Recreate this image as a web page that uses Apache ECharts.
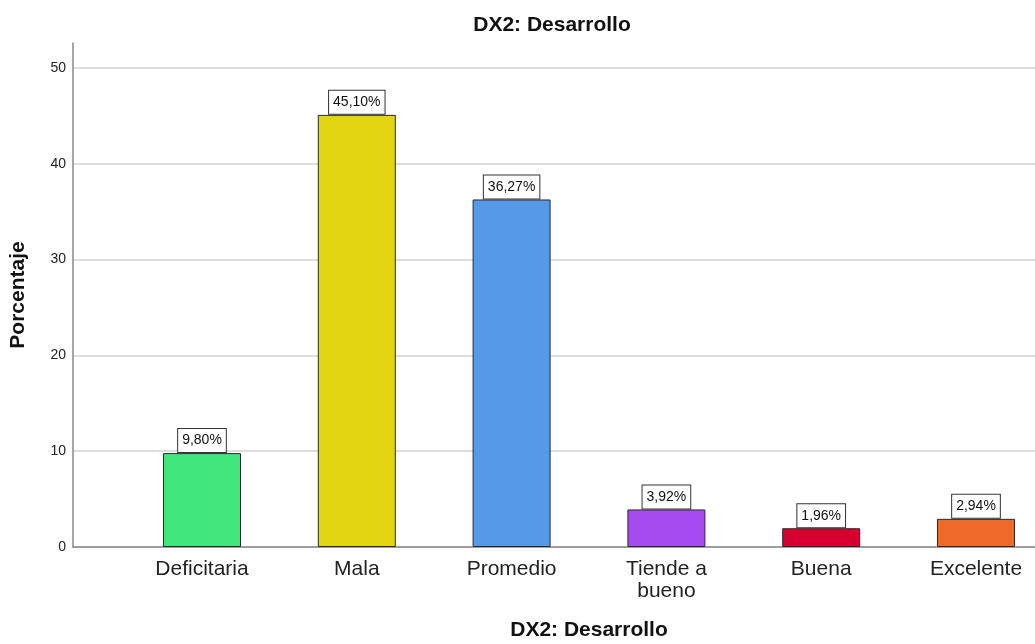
<!DOCTYPE html>
<html>
<head>
<meta charset="utf-8">
<script src="https://cdn.jsdelivr.net/npm/echarts@6/dist/echarts.min.js"></script>
<style>html,body{margin:0;padding:0;background:#fff}#c{width:1035px;height:644px}</style>
</head>
<body>
<div id="c"></div>
<script>
const categories = ['Deficitaria', 'Mala', 'Promedio', 'Tiende a\nbueno', 'Buena', 'Excelente'];
const percentages = [9.80, 45.10, 36.27, 3.92, 1.96, 2.94];
const barColors = ['#41E67C', '#E3D50F', '#5699E8', '#A64BF0', '#D6002F', '#F06A2C'];
const yTicks = [0, 10, 20, 30, 40, 50];
const chartTitle = 'DX2: Desarrollo';
const yTitle = 'Porcentaje';
const xTitle = 'DX2: Desarrollo';

const FONT = '"Liberation Sans", Arial, sans-serif';
const chart = echarts.init(document.getElementById('c'), null, {renderer: 'canvas'});
chart.setOption({
  backgroundColor: '#fff',
  animation: false,
  graphic: [{
    type: 'text', x: 552, y: 25,
    style: {text: chartTitle, textAlign: 'center', textVerticalAlign: 'middle',
      fontFamily: FONT, fontSize: 21, fontWeight: 'bold', fill: '#111'}
  }],
  grid: [
    {left: 73, right: 0, top: 43, bottom: 97, containLabel: false, outerBoundsMode: 'none'},
    {left: 202, right: 59, top: 43, bottom: 97, containLabel: false, outerBoundsMode: 'none'}
  ],
  xAxis: [
    {gridIndex: 0, type: 'value', min: 0, max: 1, show: true,
      axisLine: {show: true, onZero: false, lineStyle: {color: '#888', width: 1.5}},
      axisTick: {show: false}, axisLabel: {show: false}, splitLine: {show: false}},
    {gridIndex: 1, type: 'category', data: categories, boundaryGap: false,
      axisLine: {show: false}, axisTick: {show: false},
      axisLabel: {margin: 11, fontFamily: FONT, fontSize: 21, color: '#222', lineHeight: 22, interval: 0},
      name: xTitle, nameLocation: 'middle', nameGap: 73,
      nameTextStyle: {fontFamily: FONT, fontSize: 21, fontWeight: 'bold', color: '#111'}}
  ],
  yAxis: [
    {gridIndex: 0, type: 'value', min: 0, max: 52.6, interval: 10,
      axisLine: {show: true, lineStyle: {color: '#888', width: 1.5}},
      axisTick: {show: false},
      axisLabel: {margin: 7, fontFamily: FONT, fontSize: 14, color: '#222', showMaxLabel: false,
        formatter: v => yTicks.indexOf(v) >= 0 ? String(v) : ''},
      splitLine: {show: true, showMaxLine: false, lineStyle: {color: '#d2d2d2', width: 1.5}},
      name: yTitle, nameLocation: 'middle', nameGap: 44, nameRotate: 90,
      nameTextStyle: {fontFamily: FONT, fontSize: 21, fontWeight: 'bold', color: '#111'}},
    {gridIndex: 1, type: 'value', min: 0, max: 52.6, interval: 10, show: false}
  ],
  series: [{
    type: 'bar', xAxisIndex: 1, yAxisIndex: 1,
    data: percentages.map((v, i) => ({value: v, itemStyle: {color: barColors[i]}})),
    barWidth: 78,
    itemStyle: {borderColor: '#2a2a2a', borderWidth: 1},
    label: {
      show: true, position: 'top', distance: 1,
      formatter: p => p.value.toFixed(2).replace('.', ',') + '%',
      fontFamily: FONT, fontSize: 14, color: '#111', lineHeight: 15,
      backgroundColor: '#fff', borderColor: '#333', borderWidth: 1, padding: [4, 4, 4, 4]
    }
  }]
});
</script>
</body>
</html>
